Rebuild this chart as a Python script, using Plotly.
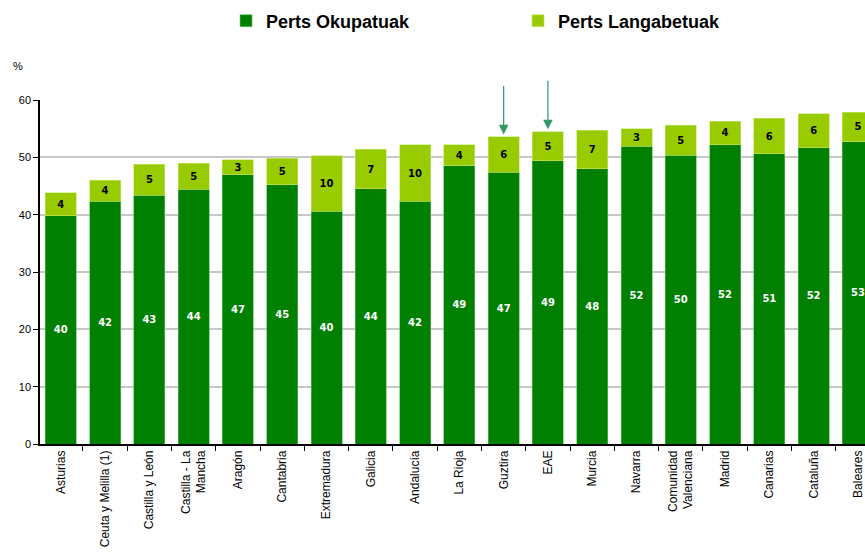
import plotly.graph_objects as go

categories = ["Asturias", "Ceuta y Melilla (1)", "Castilla y León", "Castilla - La<br>Mancha",
              "Aragón", "Cantabria", "Extremadura", "Galicia", "Andalucía", "La Rioja",
              "Guztira", "EAE", "Murcia", "Navarra", "Comunidad<br>Valenciana", "Madrid",
              "Canarias", "Cataluña", "Baleares"]
okupatuak = [39.8, 42.3, 43.4, 44.4, 47.0, 45.2, 40.6, 44.5, 42.3, 48.5,
             47.4, 49.4, 48.0, 51.9, 50.4, 52.2, 50.6, 51.7, 52.7]
langabetuak = [4.0, 3.7, 5.4, 4.6, 2.6, 4.6, 9.7, 6.9, 9.9, 3.7,
               6.2, 5.1, 6.7, 3.1, 5.2, 4.1, 6.2, 5.9, 5.2]
okup_labels = [40, 42, 43, 44, 47, 45, 40, 44, 42, 49, 47, 49, 48, 52, 50, 52, 51, 52, 53]
lang_labels = [4, 4, 5, 5, 3, 5, 10, 7, 10, 4, 6, 5, 7, 3, 5, 4, 6, 6, 5]
arrow_cats = ["Guztira", "EAE"]

fig = go.Figure()
fig.add_trace(go.Bar(
    x=categories, y=okupatuak, name="<b>Perts Okupatuak</b>",
    marker=dict(color="#008000", line=dict(color="#5fbf5f", width=0.6)),
    text=[str(v) for v in okup_labels], textposition="inside", insidetextanchor="middle",
    textangle=0, textfont=dict(family="DejaVu Sans", size=10, color="white", weight="bold"),
    width=0.7,
))
fig.add_trace(go.Bar(
    x=categories, y=langabetuak, name="<b>Perts Langabetuak</b>",
    marker=dict(color="#99CC00", line=dict(color="#c8e66a", width=0.6)),
    text=[str(v) for v in lang_labels], textposition="inside", insidetextanchor="middle",
    textangle=0, textfont=dict(family="DejaVu Sans", size=10, color="black", weight="bold"),
    width=0.7,
))

annotations = []
for c in arrow_cats:
    i = categories.index(c)
    top = okupatuak[i] + langabetuak[i]
    annotations.append(dict(
        x=c, y=top + 0.4, xref="x", yref="y", text="", showarrow=True,
        ax=0, ay=-50, arrowhead=2, arrowsize=1.6, arrowwidth=1.2, arrowcolor="#339966",
    ))
annotations.append(dict(
    x=0, y=1.10, xref="paper", yref="paper", xshift=-29, text="%", showarrow=False,
    font=dict(family="Arial", size=11, color="black"), xanchor="left", yanchor="middle",
))

fig.update_layout(
    barmode="stack",
    width=865, height=552,
    margin=dict(l=40, r=0, t=100, b=108, autoexpand=False),
    paper_bgcolor="white", plot_bgcolor="white",
    font=dict(family="Arial", size=12, color="black"),
    legend=dict(orientation="h", traceorder="normal", x=0.2255, xanchor="left",
                y=0.962, yref="container", yanchor="middle",
                font=dict(family="Arial", size=18, color="black"),
                entrywidth=247, entrywidthmode="pixels", itemwidth=30),
    annotations=annotations,
    uniformtext=dict(minsize=10, mode="show"),
)
fig.update_xaxes(
    type="category", range=[-0.47, 18.16], tickangle=-90, automargin=False,
    showline=True, linecolor="black", linewidth=1.5,
    ticks="outside", tickson="boundaries", ticklen=5, tickcolor="black",
    tickfont=dict(family="Arial", size=12, color="black"),
    showgrid=False,
)
fig.update_yaxes(
    range=[0, 60], tickvals=[0, 10, 20, 30, 40, 50, 60], automargin=False,
    showline=True, linecolor="black", linewidth=1.5,
    ticks="outside", ticklen=5, tickcolor="black",
    showgrid=True, gridcolor="#c8c8c8", gridwidth=1.5,
    tickfont=dict(family="Arial", size=11, color="black"),
    zeroline=False,
)
fig.write_html(
    "out.html",
    config={"displayModeBar": False},
    post_script="document.body.style.margin='0';document.body.style.overflow='hidden';",
)
